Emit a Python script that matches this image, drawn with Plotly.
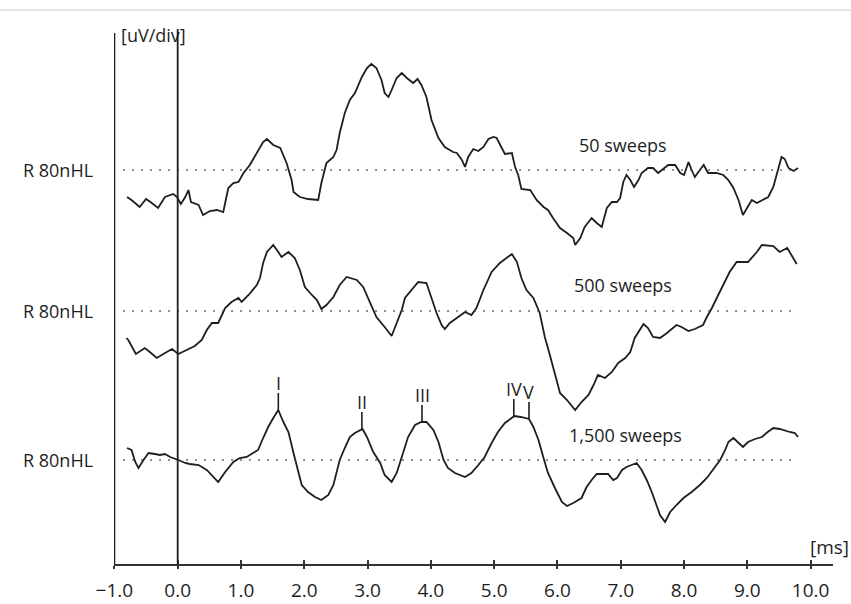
import plotly.graph_objects as go

# ---------------- data (time in ms, amplitude in div, relative to each baseline) ----------------
t_50 = [-0.80,-0.73,-0.60,-0.50,-0.43,-0.31,-0.20,-0.07,-0.01,0.05,0.12,0.17,0.21,0.33,0.40,0.51,0.62,0.72,
        0.80,0.88,0.96,1.04,1.14,1.25,1.35,1.41,1.51,1.62,1.72,1.80,1.83,1.93,2.06,2.22,2.27,2.35,2.46,2.51,
        2.56,2.64,2.72,2.80,2.91,2.99,3.06,3.14,3.22,3.27,3.33,3.38,3.46,3.54,3.62,3.72,3.79,3.85,3.93,4.01,
        4.12,4.22,4.35,4.41,4.49,4.54,4.59,4.67,4.75,4.83,4.91,4.99,5.04,5.12,5.17,5.28,5.33,5.38,5.43,5.57,
        5.67,5.78,5.85,5.93,6.04,6.15,6.25,6.28,6.36,6.43,6.54,6.62,6.70,6.78,6.86,6.94,6.99,7.04,7.09,7.15,
        7.21,7.28,7.33,7.43,7.51,7.59,7.67,7.75,7.86,7.94,8.00,8.07,8.12,8.17,8.25,8.31,8.38,8.51,8.62,8.70,
        8.78,8.86,8.93,8.99,9.07,9.15,9.23,9.33,9.41,9.49,9.54,9.59,9.65,9.73,9.80]
a_50 = [-0.27,-0.30,-0.37,-0.29,-0.32,-0.38,-0.27,-0.24,-0.27,-0.34,-0.27,-0.20,-0.32,-0.35,-0.45,-0.41,-0.40,-0.42,
        -0.18,-0.13,-0.12,-0.03,0.05,0.17,0.28,0.31,0.25,0.22,0.07,-0.10,-0.22,-0.27,-0.29,-0.30,-0.13,0.07,0.13,0.20,
        0.37,0.57,0.70,0.77,0.93,1.02,1.06,1.02,0.90,0.77,0.73,0.80,0.92,0.97,0.92,0.87,0.91,0.85,0.73,0.50,
        0.32,0.23,0.18,0.17,0.10,0.03,0.13,0.21,0.19,0.23,0.31,0.33,0.32,0.22,0.16,0.17,0.03,-0.05,-0.19,-0.20,
        -0.30,-0.37,-0.40,-0.48,-0.58,-0.63,-0.68,-0.75,-0.68,-0.57,-0.48,-0.53,-0.57,-0.38,-0.32,-0.32,-0.28,-0.12,-0.05,-0.10,
        -0.17,-0.10,-0.03,0.02,0.02,-0.03,0.01,0.05,0.05,-0.03,-0.05,0.08,0.00,-0.07,0.00,0.05,-0.03,-0.03,-0.05,-0.10,
        -0.18,-0.30,-0.45,-0.38,-0.30,-0.33,-0.30,-0.27,-0.17,0.03,0.13,0.11,0.02,-0.01,0.02]

t_500 = [-0.81,-0.78,-0.66,-0.52,-0.44,-0.33,-0.20,-0.09,0.01,0.14,0.27,0.38,0.46,0.54,0.64,0.75,0.85,0.96,
         1.01,1.12,1.25,1.30,1.35,1.41,1.51,1.59,1.64,1.75,1.85,1.93,2.01,2.12,2.20,2.27,2.35,2.46,2.56,2.67,
         2.72,2.83,2.93,3.04,3.14,3.27,3.38,3.46,3.54,3.59,3.70,3.80,3.93,4.01,4.09,4.17,4.22,4.30,4.41,4.54,
         4.64,4.72,4.83,4.96,5.09,5.20,5.28,5.36,5.43,5.51,5.62,5.72,5.80,5.88,5.96,6.04,6.15,6.28,6.38,6.49,
         6.57,6.64,6.75,6.86,6.96,7.07,7.15,7.22,7.36,7.43,7.51,7.62,7.73,7.88,7.96,8.07,8.17,8.30,8.36,8.44,
         8.54,8.65,8.72,8.83,9.01,9.15,9.23,9.41,9.51,9.63,9.70,9.78]
a_500 = [-0.27,-0.29,-0.43,-0.37,-0.41,-0.47,-0.42,-0.38,-0.43,-0.39,-0.35,-0.29,-0.19,-0.12,-0.12,0.03,0.09,0.13,
         0.09,0.16,0.26,0.33,0.48,0.59,0.66,0.59,0.54,0.59,0.53,0.41,0.24,0.16,0.11,0.02,0.06,0.14,0.26,0.34,
         0.33,0.31,0.24,0.09,-0.06,-0.16,-0.25,-0.12,0.01,0.13,0.21,0.29,0.28,0.13,-0.02,-0.14,-0.18,-0.12,-0.07,-0.01,
         -0.04,0.03,0.21,0.39,0.48,0.53,0.57,0.49,0.33,0.21,0.13,-0.02,-0.26,-0.44,-0.62,-0.82,-0.89,-0.99,-0.91,-0.84,
         -0.74,-0.64,-0.67,-0.61,-0.52,-0.47,-0.41,-0.27,-0.13,-0.17,-0.26,-0.27,-0.22,-0.14,-0.16,-0.20,-0.18,-0.14,-0.06,0.03,
         0.16,0.31,0.39,0.49,0.49,0.59,0.66,0.65,0.59,0.63,0.56,0.47]

t_1500 = [-0.80,-0.73,-0.67,-0.62,-0.54,-0.46,-0.36,-0.28,-0.20,-0.12,0.01,0.12,0.19,0.33,0.46,0.64,0.75,0.88,
          0.98,1.09,1.19,1.27,1.35,1.43,1.51,1.59,1.67,1.75,1.83,1.91,1.96,2.06,2.17,2.27,2.38,2.46,2.56,2.64,
          2.72,2.80,2.92,2.99,3.09,3.20,3.27,3.38,3.46,3.54,3.64,3.75,3.85,3.93,4.04,4.12,4.20,4.27,4.38,4.54,
          4.64,4.75,4.85,4.96,5.06,5.17,5.32,5.42,5.55,5.62,5.70,5.78,5.85,5.96,6.07,6.15,6.25,6.38,6.46,6.54,
          6.62,6.80,6.88,6.94,7.02,7.09,7.17,7.25,7.33,7.41,7.49,7.57,7.62,7.70,7.78,7.88,7.99,8.12,8.25,8.36,
          8.46,8.57,8.65,8.70,8.78,8.86,8.93,9.01,9.12,9.23,9.30,9.41,9.51,9.67,9.75,9.80]
a_1500 = [0.12,0.10,-0.02,-0.08,0.00,0.07,0.06,0.05,0.06,0.03,0.00,-0.03,-0.04,-0.05,-0.10,-0.22,-0.12,-0.02,
          0.02,0.03,0.07,0.10,0.22,0.33,0.42,0.50,0.38,0.28,0.07,-0.13,-0.25,-0.32,-0.37,-0.40,-0.35,-0.25,0.00,0.12,
          0.23,0.27,0.31,0.23,0.08,-0.03,-0.15,-0.22,-0.13,0.03,0.23,0.35,0.38,0.38,0.30,0.18,0.00,-0.08,-0.13,-0.17,
          -0.13,-0.05,0.03,0.17,0.28,0.37,0.44,0.43,0.41,0.33,0.20,0.02,-0.13,-0.28,-0.42,-0.46,-0.43,-0.38,-0.27,-0.20,
          -0.14,-0.14,-0.20,-0.18,-0.10,-0.07,-0.05,-0.03,-0.10,-0.20,-0.32,-0.47,-0.55,-0.62,-0.52,-0.45,-0.38,-0.32,-0.25,-0.18,
          -0.10,0.00,0.10,0.18,0.22,0.17,0.13,0.18,0.21,0.23,0.27,0.32,0.31,0.28,0.27,0.23]

series_times = [t_50, t_500, t_1500]
series_amps = [a_50, a_500, a_1500]
series_names = ["50 sweeps", "500 sweeps", "1,500 sweeps"]
baselines = [2.90, 1.49, 0.0]          # vertical offset of each recording (div)
channel_labels = ["R 80nHL", "R 80nHL", "R 80nHL"]
baseline_span = [-0.86, 9.78]          # ms extent of dotted reference lines

peak_labels = ["I", "II", "III", "IV", "V"]
peak_times = [1.59, 2.91, 3.86, 5.31, 5.55]
peak_amps = [0.50, 0.31, 0.38, 0.44, 0.41]

tick_vals = [-1, 0, 1, 2, 3, 4, 5, 6, 7, 8, 9, 10]
tick_text = ["\u22121.0", "0.0", "1.0", "2.0", "3.0", "4.0", "5.0", "6.0", "7.0", "8.0", "9.0", "10.0"]

x_range = [-1.006, 10.353]
y_range = [-1.04, 4.50]

# ---------------- figure ----------------
INK = "#1e1e1e"
FONT = "Open Sans"
fig = go.Figure()

for tt, aa, off in zip(series_times, series_amps, baselines):
    fig.add_trace(go.Scatter(x=tt, y=[a + off for a in aa], mode="lines",
                             line=dict(color=INK, width=1.8, shape="linear"),
                             hoverinfo="skip", showlegend=False))

# invisible trace to hold the overlay axis (inner tick marks)
fig.add_trace(go.Scatter(x=[x_range[0]], y=[y_range[0]], xaxis="x2", mode="markers",
                         marker=dict(opacity=0), hoverinfo="skip", showlegend=False))

shapes = []
# dotted baselines
for off in baselines:
    shapes.append(dict(type="line", xref="x", yref="y", x0=baseline_span[0], x1=baseline_span[1],
                       y0=off, y1=off, line=dict(color="#444444", width=1.6, dash="1.6px,7.4px")))
# vertical reference lines at -1.0 ms and 0.0 ms
shapes.append(dict(type="line", xref="x", yref="y", x0=-1.0, x1=-1.0, y0=y_range[0], y1=4.27,
                   line=dict(color=INK, width=1.8)))
shapes.append(dict(type="line", xref="x", yref="y", x0=0.0, x1=0.0, y0=y_range[0], y1=4.31,
                   line=dict(color=INK, width=1.8)))
# faint frame line at top
shapes.append(dict(type="line", xref="paper", yref="paper", x0=-0.2, x1=1.1, y0=1.0, y1=1.0,
                   line=dict(color="#e6e6e6", width=2)))

annotations = []
# peak markers
for lab, pt, pa in zip(peak_labels, peak_times, peak_amps):
    y0 = pa + baselines[2]
    shapes.append(dict(type="line", xref="x", yref="y", x0=pt, x1=pt, y0=y0, y1=y0 + 0.17,
                       line=dict(color=INK, width=1.6)))
    annotations.append(dict(x=pt, y=y0 + 0.17, xref="x", yref="y", text=lab, showarrow=False,
                            xanchor="center", yanchor="bottom", yshift=-4,
                            font=dict(family=FONT, size=18, color=INK)))

sweep_pos = [(7.03, 3.15), (7.03, 1.75), (7.08, 0.25)]
for name, (sx, sy) in zip(series_names, sweep_pos):
    annotations.append(dict(x=sx, y=sy, xref="x", yref="y", text=name, showarrow=False,
                            xanchor="center", yanchor="middle",
                            font=dict(family=FONT, size=18, color=INK)))

for lab, off in zip(channel_labels, baselines):
    annotations.append(dict(x=-0.027, y=off, xref="paper", yref="y", text=lab, showarrow=False,
                            xanchor="right", yanchor="middle",
                            font=dict(family=FONT, size=18, color=INK)))

annotations.append(dict(x=-0.93, y=4.25, xref="x", yref="y", text="[uV/div]", showarrow=False,
                        xanchor="left", yanchor="middle", font=dict(family=FONT, size=18, color=INK)))
annotations.append(dict(x=10.30, y=-0.87, xref="x", yref="y", text="[ms]", showarrow=False,
                        xanchor="center", yanchor="middle", font=dict(family=FONT, size=19, color=INK)))

fig.update_layout(
    width=851, height=604,
    margin=dict(l=114, r=18, t=10, b=40, autoexpand=False),
    paper_bgcolor="white", plot_bgcolor="white",
    showlegend=False,
    xaxis=dict(range=x_range, tickvals=tick_vals, ticktext=tick_text, ticks="outside", ticklen=3,
               tickwidth=1.5, tickcolor="#333333", showline=True, linecolor="#333333", linewidth=1.8,
               showgrid=False, zeroline=False, ticklabelstandoff=5,
               tickfont=dict(family=FONT, size=19, color=INK), fixedrange=True),
    xaxis2=dict(range=x_range, overlaying="x", anchor="y", side="bottom", tickvals=tick_vals,
                ticks="inside", ticklen=4, tickwidth=1.5, tickcolor="#333333", showticklabels=False,
                showline=False, showgrid=False, zeroline=False, fixedrange=True),
    yaxis=dict(range=y_range, visible=False, showgrid=False, zeroline=False, fixedrange=True),
    shapes=shapes,
    annotations=annotations,
)

fig.write_html("out.html")
